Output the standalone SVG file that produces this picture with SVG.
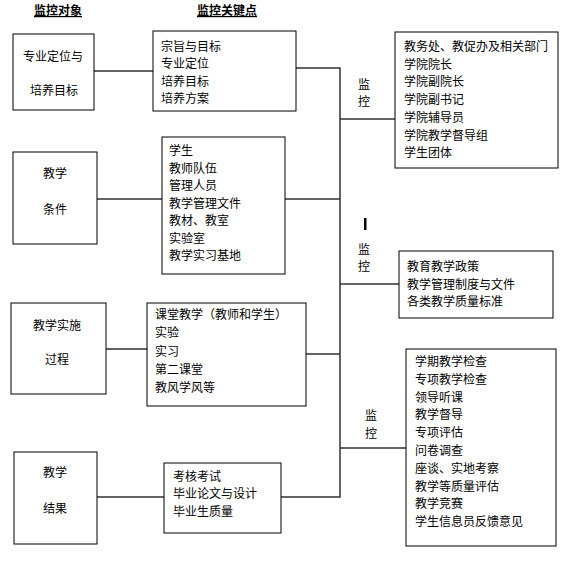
<svg xmlns="http://www.w3.org/2000/svg" width="570" height="564" viewBox="0 0 570 564">
<style>
text{font-family:"Noto Sans CJK SC","Noto Sans",sans-serif;font-size:12px;fill:#000}
.h{font-weight:bold;text-decoration:underline}
.box{fill:#fff;stroke:#000;stroke-width:1}
.c{stroke:#333;stroke-width:1.5;fill:none}
</style>
<rect width="570" height="564" fill="#fff"/>
<text class="h" x="58" y="15" text-anchor="middle">监控对象</text>
<text class="h" x="227" y="15" text-anchor="middle">监控关键点</text>
<g id="connectors">
<path class="c" d="M94 71H153M97 199H162M106 349H147M97 497H164"/>
<path class="c" d="M296 68H340V497H281M285 199H340M306 354H340M340 119H395M340 284H399M340 448H406"/>
</g>
<g id="obj1"><rect class="box" x="13" y="34" width="81" height="76"/><text x="23" y="61">专业定位与</text><text x="30" y="95">培养目标</text></g>
<g id="obj2"><rect class="box" x="13" y="152" width="84" height="92"/><text x="43" y="178">教学</text><text x="43" y="214">条件</text></g>
<g id="obj3"><rect class="box" x="11" y="303" width="95" height="91"/><text x="33" y="330">教学实施</text><text x="45" y="364">过程</text></g>
<g id="obj4"><rect class="box" x="14" y="452" width="83" height="92"/><text x="43" y="477">教学</text><text x="43" y="513">结果</text></g>
<g id="key1"><rect class="box" x="153" y="31" width="143" height="80"/>
<text x="161" y="50.5">宗旨与目标</text><text x="161" y="68">专业定位</text><text x="161" y="85.5">培养目标</text><text x="161" y="103">培养方案</text></g>
<g id="key2"><rect class="box" x="162" y="137" width="123" height="137"/>
<text x="169" y="155">学生</text><text x="169" y="172.5">教师队伍</text><text x="169" y="190">管理人员</text><text x="169" y="207.5">教学管理文件</text><text x="169" y="225">教材、教室</text><text x="169" y="242.5">实验室</text><text x="169" y="260">教学实习基地</text></g>
<g id="key3"><rect class="box" x="147" y="303" width="159" height="103"/>
<text x="155" y="319">课堂教学（教师和学生）</text><text x="155" y="337">实验</text><text x="155" y="356">实习</text><text x="155" y="374">第二课堂</text><text x="155" y="392">教风学风等</text></g>
<g id="key4"><rect class="box" x="164" y="463" width="117" height="70"/>
<text x="173" y="480.5">考核考试</text><text x="173" y="498">毕业论文与设计</text><text x="173" y="516">毕业生质量</text></g>
<g id="lab1"><text x="364" y="89" text-anchor="middle">监</text><text x="364" y="106" text-anchor="middle">控</text></g>
<g id="lab2"><rect x="364" y="218" width="2.5" height="12" fill="#000"/><text x="364" y="254" text-anchor="middle">监</text><text x="364" y="271" text-anchor="middle">控</text></g>
<g id="lab3"><text x="371" y="420" text-anchor="middle">监</text><text x="371" y="438" text-anchor="middle">控</text></g>
<g id="ctrl1"><rect class="box" x="395" y="32" width="163" height="136"/>
<text x="404" y="51">教务处、教促办及相关部门</text><text x="404" y="68.7">学院院长</text><text x="404" y="86.4">学院副院长</text><text x="404" y="104">学院副书记</text><text x="404" y="121.8">学院辅导员</text><text x="404" y="139.5">学院教学督导组</text><text x="404" y="157.2">学生团体</text></g>
<g id="ctrl2"><rect class="box" x="399" y="251" width="154" height="67"/>
<text x="407" y="271">教育教学政策</text><text x="407" y="288.5">教学管理制度与文件</text><text x="407" y="306">各类教学质量标准</text></g>
<g id="ctrl3"><rect class="box" x="406" y="349" width="150" height="197"/>
<text x="415" y="366">学期教学检查</text><text x="415" y="383.8">专项教学检查</text><text x="415" y="401.6">领导听课</text><text x="415" y="419.4">教学督导</text><text x="415" y="437.2">专项评估</text><text x="415" y="455">问卷调查</text><text x="415" y="472.8">座谈、实地考察</text><text x="415" y="490.6">教学等质量评估</text><text x="415" y="508.4">教学竞赛</text><text x="415" y="526.2">学生信息员反馈意见</text></g>
</svg>
